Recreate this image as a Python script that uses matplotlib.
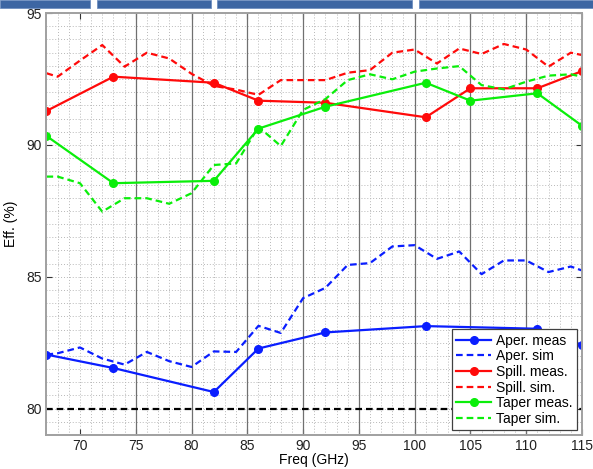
import matplotlib
matplotlib.use("Agg")
import matplotlib.pyplot as plt
from matplotlib.patches import Rectangle

plt.rcParams['font.family'] = ['Liberation Sans', 'DejaVu Sans']

# ---- data ----
meas_freq = [67, 73, 82, 86, 92, 101, 105, 111, 115]
aper_meas_freq = [67, 73, 82, 86, 92, 101, 111, 115]
aper_meas = [82.05, 81.54, 80.63, 82.28, 82.89, 83.13, 83.03, 82.42]
spill_meas = [91.29, 92.59, 92.36, 91.68, 91.60, 91.05, 92.15, 92.15, 92.80]
taper_meas = [90.34, 88.55, 88.64, 90.62, 91.45, 92.36, 91.68, 91.96, 90.73]

sim_freq = [67, 68, 70, 72, 74, 76, 78, 80, 82, 84, 86, 88, 90, 92, 94, 96,
            98, 100, 102, 104, 106, 108, 110, 112, 114, 115]
aper_sim = [82.05, 82.10, 82.32, 81.90, 81.67, 82.15, 81.80, 81.58, 82.17, 82.15,
            83.14, 82.87, 84.19, 84.58, 85.45, 85.52, 86.15, 86.20, 85.68, 85.96,
            85.10, 85.62, 85.62, 85.18, 85.39, 85.24]
spill_sim = [92.72, 92.59, 93.20, 93.79, 92.97, 93.50, 93.28, 92.70, 92.24, 92.10,
             91.90, 92.46, 92.46, 92.46, 92.74, 92.84, 93.50, 93.62, 93.09, 93.66,
             93.45, 93.83, 93.62, 92.97, 93.50, 93.41]
taper_sim = [88.80, 88.80, 88.55, 87.47, 87.98, 87.98, 87.77, 88.17, 89.24, 89.30,
             90.69, 89.96, 91.33, 91.74, 92.46, 92.68, 92.49, 92.78, 92.90, 92.99,
             92.27, 92.11, 92.40, 92.63, 92.68, 92.59]

ref_level = 80
x_ticks = [70, 75, 80, 85, 90, 95, 100, 105, 110, 115]
y_ticks = [80, 85, 90, 95]

BLUE = '#0a1eff'
RED = '#ff0a0a'
GREEN = '#0aee0a'

fig = plt.figure(figsize=(5.93, 4.69), dpi=100)
ax = fig.add_axes([0.0784, 0.0725, 0.903, 0.8995])

# header bars (slide decoration)
for x0, x1 in [(0, 90), (97, 211), (217, 412), (419, 593)]:
    fig.patches.append(Rectangle((x0 / 593, 1 - 8 / 469), (x1 - x0) / 593, 8 / 469,
                                 transform=fig.transFigure, facecolor='#3d66a3',
                                 edgecolor='#6f8fc0', lw=0.6))

ax.set_xlim(67, 115)
ax.set_ylim(79, 95)
ax.set_xticks(x_ticks)
ax.set_yticks(y_ticks)
ax.set_xticks(range(67, 116), minor=True)
ax.set_yticks([79 + 0.5 * i for i in range(33)], minor=True)
ax.grid(which='both', linestyle=(0, (1, 2)), color='#b8b8b8', lw=0.7)
ax.set_axisbelow(True)
for xv in range(75, 115, 5):
    ax.axvline(xv, color='#707070', lw=0.9, zorder=1)

dash = (0, (3, 1.8))
ax.axhline(ref_level, color='black', lw=1.6, linestyle=dash, zorder=2)

ax.plot(aper_meas_freq, aper_meas, '-o', color=BLUE, lw=1.6, ms=5.5, label='Aper. meas')
ax.plot(sim_freq, aper_sim, color=BLUE, lw=1.6, linestyle=dash, label='Aper. sim')
ax.plot(meas_freq, spill_meas, '-o', color=RED, lw=1.6, ms=5.5, label='Spill. meas.')
ax.plot(sim_freq, spill_sim, color=RED, lw=1.6, linestyle=dash, label='Spill. sim.')
ax.plot(meas_freq, taper_meas, '-o', color=GREEN, lw=1.6, ms=5.5, label='Taper meas.')
ax.plot(sim_freq, taper_sim, color=GREEN, lw=1.6, linestyle=dash, label='Taper sim.')

for s in ax.spines.values():
    s.set_color('#a0a0a0')
    s.set_linewidth(1.4)
ax.tick_params(axis='both', which='major', direction='in', length=4, color='#333333',
               labelsize=10, labelcolor='#222222', top=True, right=True)
ax.tick_params(axis='x', which='major', pad=3)
ax.tick_params(axis='both', which='minor', length=0)

ax.set_xlabel('Freq (GHz)', fontsize=10, labelpad=0)
ax.set_ylabel('Eff. (%)', fontsize=10, labelpad=6)

leg = ax.legend(loc='lower right', fontsize=10, frameon=True, fancybox=False,
                edgecolor='#404040', framealpha=1, handlelength=2.5, labelspacing=0.12,
                borderaxespad=0.35, borderpad=0.3, handletextpad=0.4)
leg.get_frame().set_linewidth(0.9)

fig.savefig('out.png', dpi=100)
